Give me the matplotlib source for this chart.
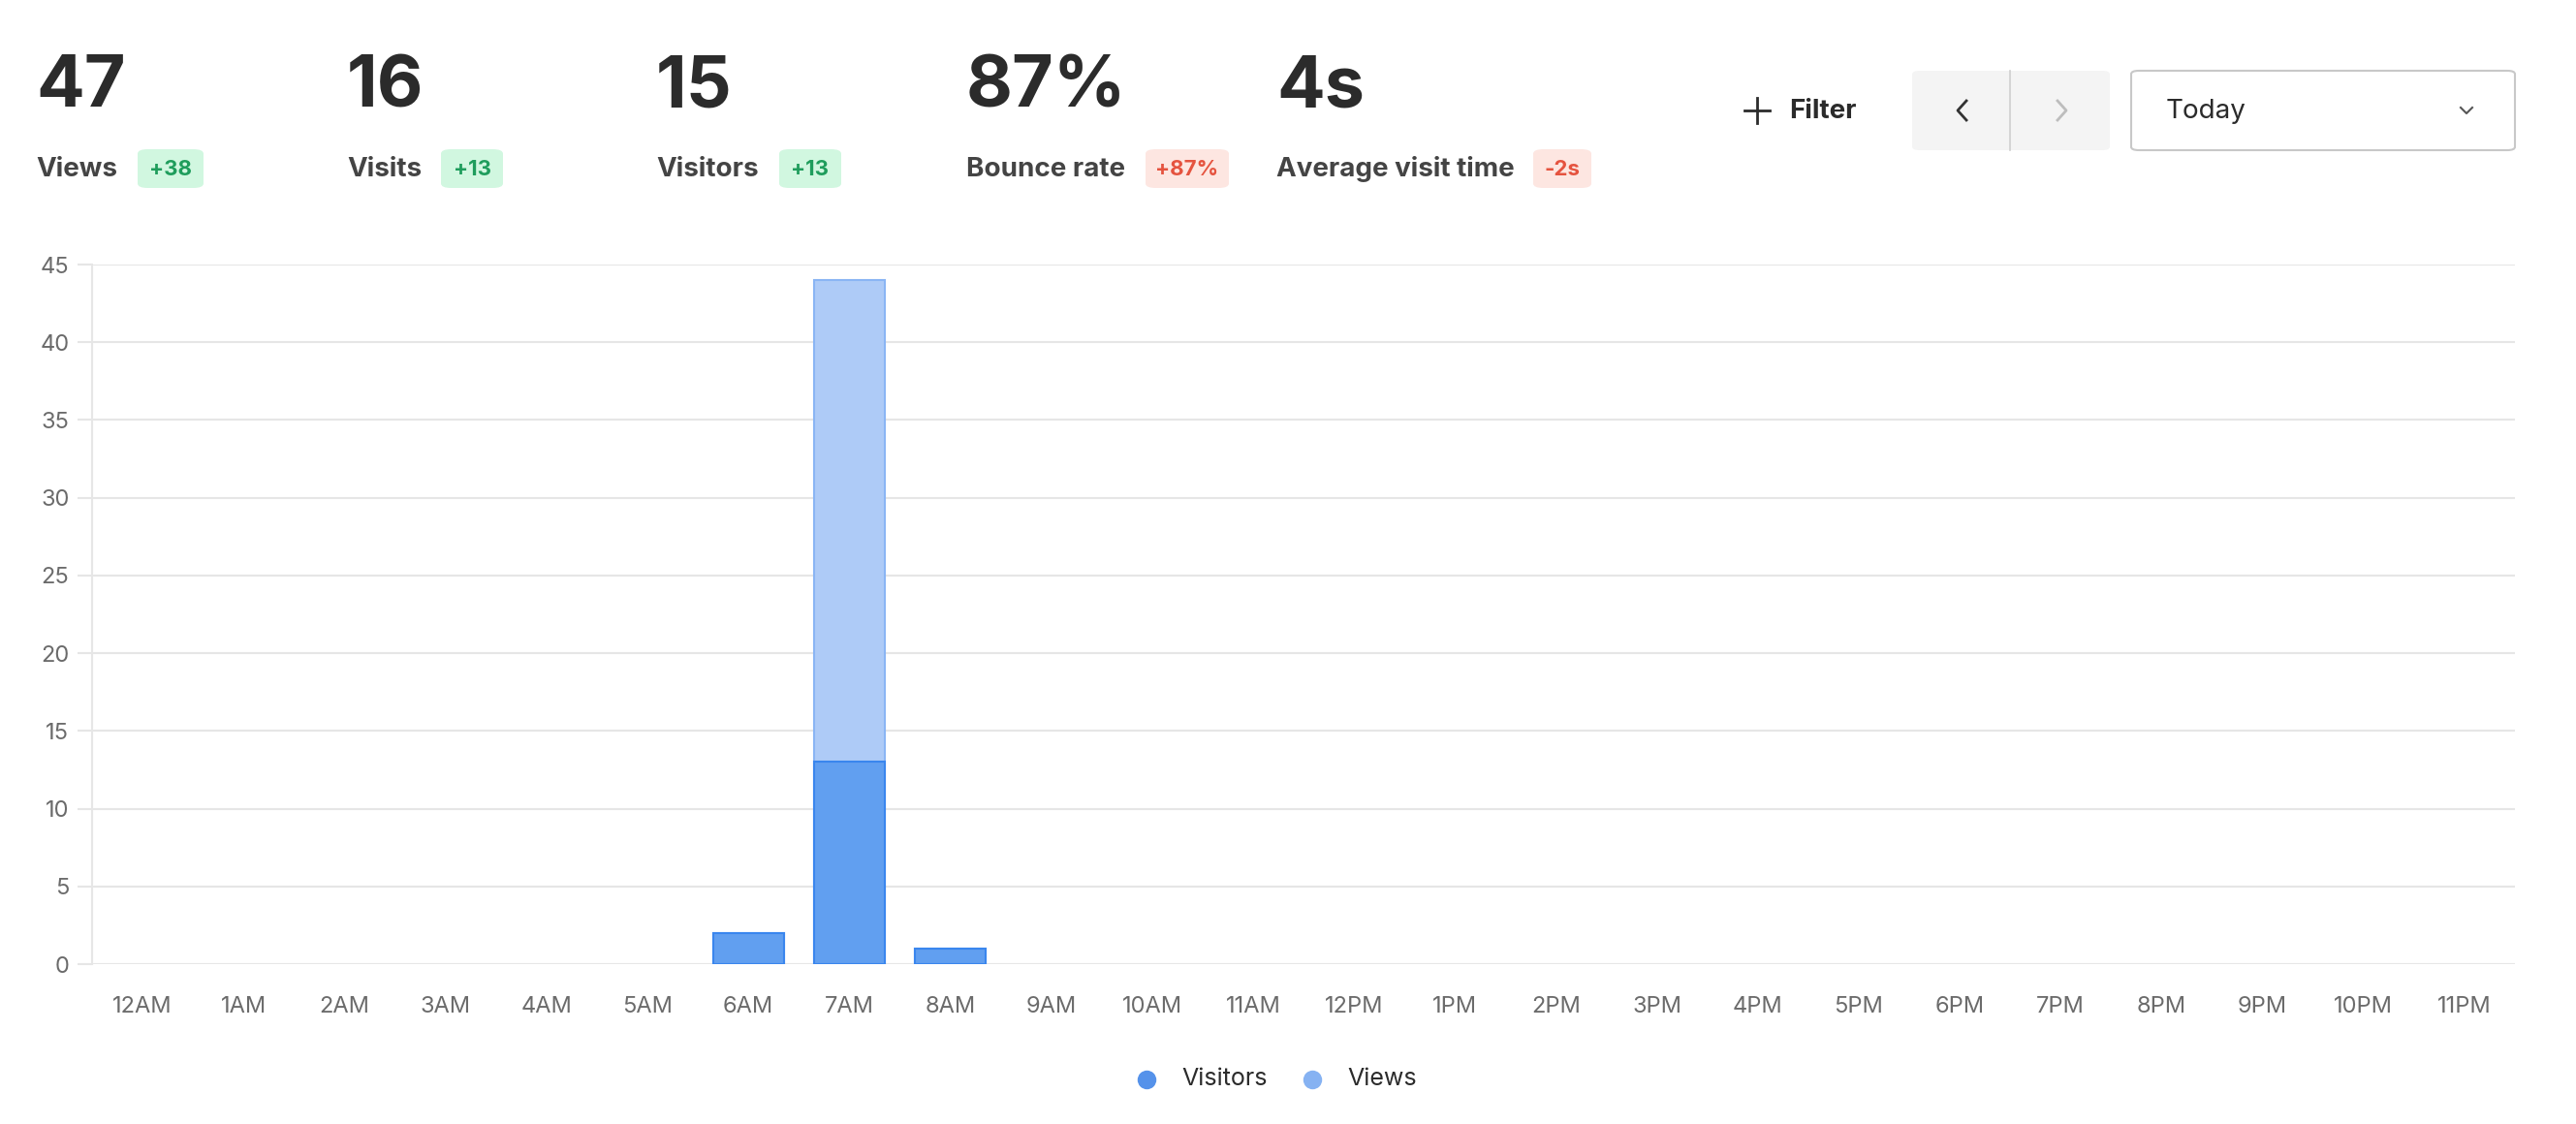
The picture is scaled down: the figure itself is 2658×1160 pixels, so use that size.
import matplotlib.pyplot as plt
from matplotlib.patches import FancyBboxPatch
import numpy as np

plt.rcParams['font.family'] = ['Inter', 'DejaVu Sans']

hours = ['12AM', '1AM', '2AM', '3AM', '4AM', '5AM', '6AM', '7AM', '8AM', '9AM', '10AM', '11AM',
         '12PM', '1PM', '2PM', '3PM', '4PM', '5PM', '6PM', '7PM', '8PM', '9PM', '10PM', '11PM']
views = [0, 0, 0, 0, 0, 0, 2, 44, 1, 0, 0, 0, 0, 0, 0, 0, 0, 0, 0, 0, 0, 0, 0, 0]
visitors = [0, 0, 0, 0, 0, 0, 2, 13, 1, 0, 0, 0, 0, 0, 0, 0, 0, 0, 0, 0, 0, 0, 0, 0]

stat_values = ['47', '16', '15', '87%', '4s']
stat_labels = ['Views', 'Visits', 'Visitors', 'Bounce rate', 'Average visit time']
stat_changes = ['+38', '+13', '+13', '+87%', '-2s']
stat_good = [True, True, True, False, False]

W, H = 2658, 1160
fig = plt.figure(figsize=(W / 100, H / 100), dpi=100)


def fx(px):
    return px / W


def fy(py):
    return 1 - py / H


# header stats
stat_x = [37, 358, 677, 997, 1317]
badge_x = [142, 455, 804, 1182, 1582]
badge_w = [68, 64, 64, 86, 60]
for i in range(5):
    fig.text(fx(stat_x[i]), fy(91), stat_values[i], fontsize=53, fontweight='bold',
             color='#2b2b2b', va='center', ha='left')
    fig.text(fx(stat_x[i]), fy(175), stat_labels[i], fontsize=20, fontweight='bold',
             color='#444444', va='center', ha='left')
    bg = '#d1f7e0' if stat_good[i] else '#fde6e1'
    fg = '#1f9d5c' if stat_good[i] else '#e5533f'
    fig.patches.append(FancyBboxPatch((fx(badge_x[i]), fy(194)), fx(badge_w[i]), 40 / H,
                                      boxstyle='round,pad=0,rounding_size=0.004',
                                      transform=fig.transFigure, facecolor=bg, edgecolor='none'))
    fig.text(fx(badge_x[i] + badge_w[i] / 2), fy(175), stat_changes[i], fontsize=16,
             fontweight='bold', color=fg, va='center', ha='center')

# filter + buttons
fig.lines.append(plt.Line2D([fx(1800), fx(1826)], [fy(114), fy(114)], transform=fig.transFigure,
                            color='#2b2b2b', linewidth=2))
fig.lines.append(plt.Line2D([fx(1813), fx(1813)], [fy(101), fy(127)], transform=fig.transFigure,
                            color='#2b2b2b', linewidth=2))
fig.text(fx(1846), fy(115), 'Filter', fontsize=20, fontweight='bold', color='#2b2b2b',
         va='center', ha='left')
fig.patches.append(FancyBboxPatch((fx(1973), fy(155)), fx(204), 82 / H,
                                  boxstyle='round,pad=0,rounding_size=0.003',
                                  transform=fig.transFigure, facecolor='#f4f4f4', edgecolor='none'))
fig.lines.append(plt.Line2D([fx(2074), fx(2074)], [fy(73), fy(155)], transform=fig.transFigure,
                            color='#cfcfcf', linewidth=1.2))
fig.lines.append(plt.Line2D([fx(2029), fx(2020), fx(2029)], [fy(104), fy(114), fy(124)],
                            transform=fig.transFigure, color='#333333', linewidth=2))
fig.lines.append(plt.Line2D([fx(2123), fx(2132), fx(2123)], [fy(104), fy(114), fy(124)],
                            transform=fig.transFigure, color='#bdbdbd', linewidth=2))
fig.patches.append(FancyBboxPatch((fx(2199), fy(155)), fx(396), 82 / H,
                                  boxstyle='round,pad=0,rounding_size=0.003',
                                  transform=fig.transFigure, facecolor='white',
                                  edgecolor='#c8c8c8', linewidth=1.5))
fig.text(fx(2235), fy(115), 'Today', fontsize=20, color='#2b2b2b', va='center', ha='left')
fig.lines.append(plt.Line2D([fx(2539), fx(2545), fx(2551)], [fy(111), fy(117), fy(111)],
                            transform=fig.transFigure, color='#555555', linewidth=1.5))

# chart
ax = fig.add_axes([fx(95), fy(995), fx(2595 - 95), (995 - 273) / H])
x = np.arange(len(hours))
vw = np.array(views)
vs = np.array(visitors)
ax.bar(x[vw > 0], vw[vw > 0], width=0.7, color='#aecbf7', edgecolor='#8ab5f4',
       linewidth=1.5, zorder=2)
ax.bar(x[vs > 0], vs[vs > 0], width=0.7, color='#619ff0', edgecolor='#3a86ee',
       linewidth=1.5, zorder=3)
ax.set_xlim(-0.5, len(hours) - 0.5)
ax.set_ylim(0, 45)
ax.set_yticks(range(0, 46, 5))
ax.set_xticks(x)
ax.set_xticklabels(hours)
ax.grid(axis='y', color='#e6e6e6', linewidth=1.5, zorder=0)
for s in ['top', 'right', 'bottom']:
    ax.spines[s].set_visible(False)
ax.spines['left'].set_color('#e6e6e6')
ax.spines['left'].set_linewidth(1.5)
ax.tick_params(axis='y', length=11, width=1.5, color='#e6e6e6', labelsize=17,
               labelcolor='#6b6b6b', pad=6)
ax.tick_params(axis='x', length=0, labelsize=17, labelcolor='#6b6b6b', pad=24)

# legend
fig.lines.append(plt.Line2D([fx(1183)], [fy(1114)], transform=fig.transFigure, marker='o',
                            markersize=14, markerfacecolor='#5592ea', markeredgecolor='none',
                            linestyle='none'))
fig.text(fx(1219), fy(1114), 'Visitors', fontsize=18, color='#2b2b2b', va='center', ha='left')
fig.lines.append(plt.Line2D([fx(1354)], [fy(1114)], transform=fig.transFigure, marker='o',
                            markersize=14, markerfacecolor='#86b2f2', markeredgecolor='none',
                            linestyle='none'))
fig.text(fx(1390), fy(1114), 'Views', fontsize=18, color='#2b2b2b', va='center', ha='left')

fig.savefig('out.png', dpi=100)
